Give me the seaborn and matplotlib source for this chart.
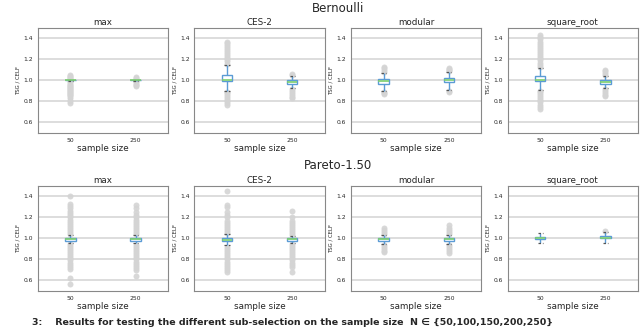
import pandas as pd
import numpy as np
import seaborn as sns
import matplotlib.pyplot as plt

functions = ["max", "CES-2", "modular", "square_root"]
sizes = ["50", "250"]

# box summaries, order: max-50, max-250, CES-50, CES-250, modular-50, modular-250, sqrt-50, sqrt-250
bern_low = [1.00, 1.00, 0.90, 0.93, 0.90, 0.91, 0.91, 0.93]
bern_q1 = [0.998, 0.998, 0.99, 0.97, 0.965, 0.98, 0.99, 0.97]
bern_med = [1.00, 1.00, 1.00, 0.985, 0.99, 1.00, 1.005, 0.985]
bern_q3 = [1.00, 1.00, 1.05, 1.00, 1.01, 1.02, 1.04, 1.00]
bern_high = [1.00, 1.00, 1.15, 1.04, 1.07, 1.08, 1.12, 1.04]
bern_fliers = [
    [0.78, 0.80, 0.83, 0.85, 0.86, 0.87, 0.88, 0.89, 0.90, 0.91, 0.92, 0.93, 0.94,
     0.95, 0.96, 0.97, 0.98, 0.99, 1.01, 1.02, 1.03, 1.04, 1.05],
    [0.95, 0.96, 0.97, 0.98, 0.99, 1.01, 1.02, 1.03],
    [0.77, 0.78, 0.80, 0.82, 0.84, 0.86, 0.88, 0.89, 1.16, 1.18, 1.20, 1.22, 1.24,
     1.26, 1.28, 1.30, 1.32, 1.34, 1.36, 1.37],
    [0.83, 0.84, 0.86, 0.88, 0.90, 0.92, 1.05, 1.06],
    [0.87, 0.88, 0.89, 1.08, 1.10, 1.12, 1.13],
    [0.89, 0.90, 1.09, 1.10, 1.11, 1.12],
    [0.73, 0.75, 0.77, 0.79, 0.81, 0.83, 0.85, 0.87, 0.89, 0.90, 1.13, 1.15, 1.17,
     1.19, 1.21, 1.23, 1.25, 1.27, 1.29, 1.31, 1.33, 1.35, 1.37, 1.39, 1.41, 1.43],
    [0.85, 0.86, 0.88, 0.90, 0.92, 1.05, 1.07, 1.09, 1.10],
]

par_low = [0.96, 0.96, 0.94, 0.96, 0.95, 0.95, 0.96, 0.96]
par_q1 = [0.98, 0.98, 0.975, 0.98, 0.975, 0.975, 0.99, 1.00]
par_med = [0.99, 0.99, 0.985, 0.99, 0.99, 0.99, 1.00, 1.005]
par_q3 = [1.00, 1.00, 1.00, 1.00, 1.00, 1.00, 1.01, 1.02]
par_high = [1.03, 1.03, 1.04, 1.02, 1.03, 1.03, 1.05, 1.06]
par_fliers = [
    [0.57, 0.62, 0.71, 0.73, 0.75, 0.77, 0.79, 0.81, 0.83, 0.85, 0.87, 0.89, 0.91,
     0.93, 0.95, 1.04, 1.06, 1.08, 1.10, 1.12, 1.14, 1.16, 1.18, 1.20, 1.22, 1.24,
     1.26, 1.29, 1.31, 1.33, 1.40],
    [0.64, 0.70, 0.72, 0.74, 0.76, 0.78, 0.80, 0.82, 0.84, 0.86, 0.88, 0.90, 0.92,
     0.94, 1.04, 1.06, 1.08, 1.10, 1.12, 1.14, 1.16, 1.18, 1.20, 1.22, 1.25, 1.29, 1.32],
    [0.68, 0.70, 0.72, 0.74, 0.76, 0.78, 0.80, 0.82, 0.84, 0.86, 0.88, 0.90, 0.92,
     1.05, 1.07, 1.09, 1.11, 1.13, 1.15, 1.17, 1.20, 1.22, 1.25, 1.30, 1.32, 1.45],
    [0.68, 0.73, 0.75, 0.77, 0.79, 0.81, 0.83, 0.85, 0.87, 0.89, 0.91, 0.93, 0.95,
     1.03, 1.05, 1.07, 1.09, 1.11, 1.13, 1.15, 1.17, 1.20, 1.26],
    [0.87, 0.88, 0.90, 0.92, 0.94, 1.04, 1.06, 1.08, 1.10],
    [0.86, 0.88, 0.90, 0.92, 0.94, 1.04, 1.06, 1.08, 1.10, 1.13],
    [],
    [1.07],
]

caption = "3:    Results for testing the different sub-selection on the sample size  N \u2208 {50,100,150,200,250}"

dists = {
    "Bernoulli": (bern_low, bern_q1, bern_med, bern_q3, bern_high, bern_fliers),
    "Pareto-1.50": (par_low, par_q1, par_med, par_q3, par_high, par_fliers),
}

rows = []
for dist, (lo, q1, med, q3, hi, fl) in dists.items():
    for i in range(8):
        f = functions[i // 2]
        s = sizes[i % 2]
        # 7 points reproducing whiskers / quartiles / median
        for v in [lo[i], q1[i], q1[i], med[i], q3[i], q3[i], hi[i]]:
            rows.append((dist, f, s, v, "core"))
        for v in fl[i]:
            rows.append((dist, f, s, v, "flier"))
df = pd.DataFrame(rows, columns=["dist", "func", "size", "ratio", "kind"])

sns.set_style("white")
plt.rcParams["font.family"] = ["DejaVu Sans"]
fig, axes = plt.subplots(2, 4, figsize=(6.4, 3.28), dpi=100)
plt.subplots_adjust(left=0.059, right=0.997, top=0.915, bottom=0.113,
                    wspace=0.2, hspace=0.505)

blue = "#5b9bd5"
for r, dist in enumerate(dists):
    for c, f in enumerate(functions):
        ax = axes[r, c]
        sub = df[(df.dist == dist) & (df.func == f)]
        ax.grid(True, color="#dadada", linewidth=1.3, zorder=0)
        ax.set_axisbelow(True)
        sns.stripplot(data=sub[sub.kind == "flier"], x="size", y="ratio", order=sizes,
                      jitter=False, color="#d4d4d4", size=4.3, linewidth=0,
                      alpha=0.9, ax=ax, zorder=2)
        sns.boxplot(data=sub[sub.kind == "core"], x="size", y="ratio", order=sizes,
                    width=0.16, whis=(0, 100), showfliers=False, ax=ax,
                    boxprops=dict(facecolor="white", edgecolor=blue, linewidth=1, zorder=3),
                    whiskerprops=dict(color=blue, linewidth=1, zorder=3),
                    capprops=dict(color="#555555", linewidth=0.9, linestyle=(0, (2, 1.5)), zorder=3),
                    medianprops=dict(color="#7ccf6e", linewidth=1.2, zorder=4))
        ax.set_xlim(-0.5, 1.5)
        ax.set_ylim(0.5, 1.5)
        ax.set_yticks([0.6, 0.8, 1.0, 1.2, 1.4])
        ax.tick_params(labelsize=4.3, length=2, width=0.5, pad=1.5)
        ax.set_title(f, fontsize=6.3, pad=2)
        ax.set_xlabel("sample size", fontsize=6.3, labelpad=1)
        ax.set_ylabel("TSG / CELF", fontsize=3.9, labelpad=2)
        for sp in ax.spines.values():
            sp.set_color("#888888")
            sp.set_linewidth(0.8)

fig.text(0.528, 0.973, "Bernoulli", ha="center", va="center", fontsize=8.5)
fig.text(0.528, 0.494, "Pareto-1.50", ha="center", va="center", fontsize=8.5)
fig.text(0.05, 0.004, caption, ha="left", va="bottom", fontsize=6.8, fontweight="bold")

plt.savefig("out.png", dpi=100)
